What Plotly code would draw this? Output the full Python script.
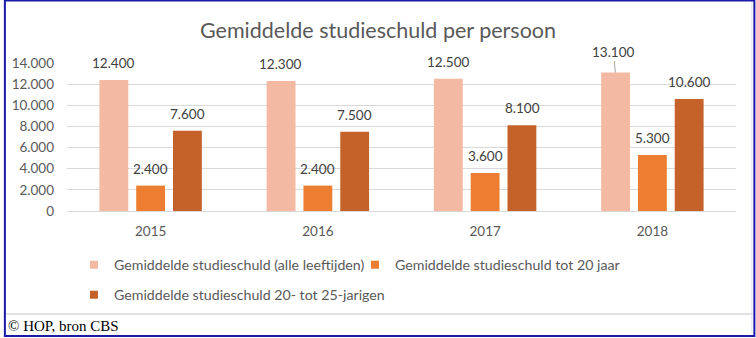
import plotly.graph_objects as go

years = ["2015", "2016", "2017", "2018"]
series_names = [
    "Gemiddelde studieschuld (alle leeftijden)",
    "Gemiddelde studieschuld tot 20 jaar",
    "Gemiddelde studieschuld 20- tot 25-jarigen",
]
alle_leeftijden = [12400, 12300, 12500, 13100]
tot_20 = [2400, 2400, 3600, 5300]
jarigen_20_25 = [7600, 7500, 8100, 10600]
colors = ["#F4B9A2", "#ED7D31", "#C5622A"]
y_ticks = [0, 2000, 4000, 6000, 8000, 10000, 12000, 14000]

W, H = 756, 338
ML, MR, MT, MB = 63, 20, 63, 127
BARGAP = 0.34
BARGROUPGAP = 0.216
FONT = "Lato"
GRAY = "#595959"

series = [alle_leeftijden, tot_20, jarigen_20_25]
fig = go.Figure()
for i, (name, vals, col) in enumerate(zip(series_names, series, colors)):
    fig.add_trace(go.Bar(
        x=years, y=vals, name=name, marker=dict(color=col, line=dict(width=0)),
        showlegend=False, hoverinfo="skip",
    ))
# legend proxies (small square swatches like the original)
for i, (name, col) in enumerate(zip(series_names, colors)):
    fig.add_trace(go.Scatter(
        x=[None], y=[None], mode="markers", name=name,
        marker=dict(symbol="square", size=8, color=col, line=dict(width=0)),
        legend="legend" if i < 2 else "legend2", hoverinfo="skip",
    ))

plot_w = W - ML - MR
plot_h = H - MT - MB
cat_w = plot_w / len(years)
slot = cat_w * (1 - BARGAP) / len(series)
ymax = y_ticks[-1]

annotations = []
for i, vals in enumerate(series):
    offset = (i - (len(series) - 1) / 2) * slot
    for k, v in enumerate(vals):
        label = f"{v:,}".replace(",", ".")
        if v > 0.92 * ymax:
            annotations.append(dict(
                x=k, y=v, xref="x", yref="y", text=label, showarrow=True,
                arrowhead=0, arrowwidth=1, arrowcolor="#A6A6A6", ax=-2, ay=-21,
                standoff=0, xshift=offset, font=dict(family=FONT, size=13.5, color="#404040"),
            ))
        else:
            annotations.append(dict(
                x=k, y=v, xref="x", yref="y", text=label, showarrow=False,
                xshift=offset, yshift=17, font=dict(family=FONT, size=13.5, color="#404040"),
            ))

annotations.append(dict(
    text="© HOP, bron CBS", xref="paper", yref="paper",
    x=(2 - ML) / plot_w, y=(H - MB - 326) / plot_h, xanchor="left", yanchor="middle",
    showarrow=False, font=dict(family="Liberation Serif", size=15, color="#000000"),
))

def px_x(p):
    return (p - ML) / plot_w

def px_y(p):
    return (H - MB - p) / plot_h

shapes = [
    dict(type="line", xref="paper", yref="paper", x0=px_x(0), x1=px_x(753), y0=px_y(314), y1=px_y(314),
         line=dict(color="#D9D9D9", width=1.5)),
    dict(type="line", xref="paper", yref="paper", x0=px_x(752), x1=px_x(752), y0=px_y(2), y1=px_y(334),
         line=dict(color="#E0E0F0", width=1)),
    dict(type="rect", xref="paper", yref="paper", x0=px_x(0.5), x1=px_x(754.5), y0=px_y(0.5), y1=px_y(336),
         line=dict(color="#1A1AAA", width=2), fillcolor="rgba(0,0,0,0)"),
]

legend_common = dict(
    orientation="h", xanchor="left", yanchor="middle",
    font=dict(family=FONT, size=14.2, color=GRAY),
    bgcolor="rgba(0,0,0,0)", itemsizing="trace",
    itemclick=False, itemdoubleclick=False,
)

fig.update_layout(
    width=W, height=H,
    margin=dict(l=ML, r=MR, t=MT, b=MB, pad=0),
    paper_bgcolor="white", plot_bgcolor="white",
    separators=",.",
    barmode="group", bargap=BARGAP, bargroupgap=BARGROUPGAP,
    title=dict(text="Gemiddelde studieschuld per persoon", x=0.5, xref="container", xanchor="center",
               y=1 - 30 / H, yanchor="middle", yref="container",
               font=dict(family=FONT, size=21.5, color=GRAY)),
    font=dict(family=FONT, size=13.5, color=GRAY),
    xaxis=dict(type="category", range=[-0.5, len(years) - 0.5], autorange=False,
               showgrid=False, showline=True, linecolor="#D9D9D9", linewidth=1,
               ticks="", tickfont=dict(family=FONT, size=13.5, color=GRAY),
               ticklabelstandoff=8, fixedrange=True),
    yaxis=dict(range=[0, ymax], autorange=False, tickvals=y_ticks, tickformat=",d",
               showgrid=True, gridcolor="#D9D9D9", gridwidth=1, zeroline=False,
               showline=False, ticks="", tickfont=dict(family=FONT, size=13.5, color=GRAY),
               ticklabelstandoff=12, fixedrange=True),
    legend=dict(x=px_x(70), y=px_y(265), entrywidth=236, entrywidthmode="pixels", **legend_common),
    legend2=dict(x=px_x(70), y=px_y(295), **legend_common),
    annotations=annotations,
    shapes=shapes,
    showlegend=True,
)

fig.write_html("out.html", config={"displayModeBar": False})
